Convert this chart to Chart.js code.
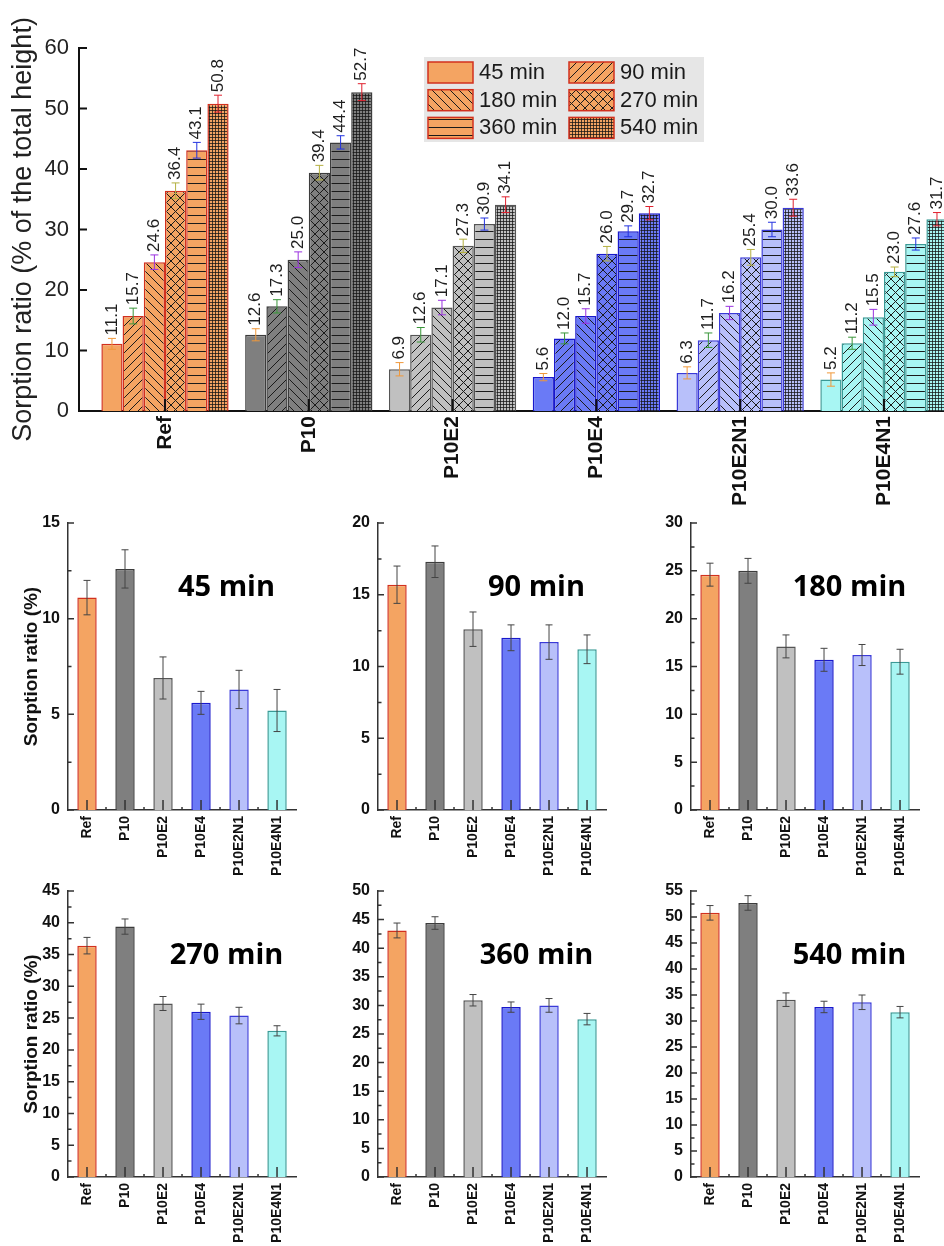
<!DOCTYPE html>
<html>
<head>
<meta charset="utf-8">
<script src="https://cdn.jsdelivr.net/npm/chart.js@4.4.1/dist/chart.umd.min.js"></script>
<style>
  html, body { margin: 0; padding: 0; background: #fff; overflow: hidden; width: 944px; height: 1246px; }
  canvas { position: absolute; }
</style>
</head>
<body>
<canvas id="main" width="1000" height="520" style="left:0px;top:0px"></canvas>
<canvas id="c45" width="300" height="385" style="left:0px;top:500px"></canvas>
<canvas id="c90" width="300" height="385" style="left:310px;top:500px"></canvas>
<canvas id="c180" width="300" height="385" style="left:623px;top:500px"></canvas>
<canvas id="c270" width="300" height="378" style="left:0px;top:868px"></canvas>
<canvas id="c360" width="300" height="378" style="left:310px;top:868px"></canvas>
<canvas id="c540" width="300" height="378" style="left:623px;top:868px"></canvas>
<script>
// data
const samples = ["Ref", "P10", "P10E2", "P10E4", "P10E2N1", "P10E4N1"];
const times = ["45 min", "90 min", "180 min", "270 min", "360 min", "540 min"];

const ratio45 = [11.1, 12.6, 6.9, 5.6, 6.3, 5.2];
const ratio90 = [15.7, 17.3, 12.6, 12.0, 11.7, 11.2];
const ratio180 = [24.6, 25.0, 17.1, 15.7, 16.2, 15.5];
const ratio270 = [36.4, 39.4, 27.3, 26.0, 25.4, 23.0];
const ratio360 = [43.1, 44.4, 30.9, 29.7, 30.0, 27.6];
const ratio540 = [50.8, 52.7, 34.1, 32.7, 33.6, 31.7];

const err45 = [0.9, 1.0, 1.1, 0.6, 1.0, 1.1];
const err90 = [1.3, 1.1, 1.2, 0.9, 1.2, 1.0];
const err180 = [1.2, 1.3, 1.2, 1.2, 1.1, 1.3];
const err270 = [1.3, 1.2, 1.1, 1.2, 1.3, 0.8];
const err360 = [1.3, 1.1, 1.0, 0.9, 1.2, 1.0];
const err540 = [1.4, 1.4, 1.3, 1.1, 1.4, 1.1];

const mainTicksY = [0, 10, 20, 30, 40, 50, 60];
const panelMax = [15, 20, 30, 45, 50, 55];

const ratios = [ratio45, ratio90, ratio180, ratio270, ratio360, ratio540];
const errs = [err45, err90, err180, err270, err360, err540];

// styles
const FONT = "'Liberation Sans', Arial, sans-serif";
const fillColors = ["#f4a462", "#7f7f7f", "#c0c0c0", "#6a7af6", "#b8c0fa", "#a8f6f3"];
const borderColors = ["#d2301e", "#3c3c3c", "#555555", "#1818cc", "#3a3ad8", "#3a9a96"];
const patternKinds = ["none", "fwd", "back", "cross", "horiz", "grid"];
const errColors = ["#f0983a", "#3a963a", "#9a32e0", "#b4b040", "#2232e0", "#e0202e"];

Chart.defaults.font.family = FONT;

const mainCtx = document.getElementById("main").getContext("2d");

function makePattern(kind, fill) {
  const sizes = { none: 4, fwd: 9, back: 9, cross: 9, horiz: 8, grid: 3 };
  const s = sizes[kind];
  const c = document.createElement("canvas");
  c.width = s; c.height = s;
  const g = c.getContext("2d");
  g.fillStyle = fill;
  g.fillRect(0, 0, s, s);
  g.strokeStyle = kind === "grid" ? "rgba(20,20,20,0.75)" : "#1a1a1a";
  g.lineWidth = 1;
  g.beginPath();
  if (kind === "fwd" || kind === "cross") {
    g.moveTo(-1, s + 1); g.lineTo(s + 1, -1);
    g.moveTo(-1, 1); g.lineTo(1, -1);
    g.moveTo(s - 1, s + 1); g.lineTo(s + 1, s - 1);
  }
  if (kind === "back" || kind === "cross") {
    g.moveTo(-1, -1); g.lineTo(s + 1, s + 1);
    g.moveTo(s - 1, -1); g.lineTo(s + 1, 1);
    g.moveTo(-1, s - 1); g.lineTo(1, s + 1);
  }
  if (kind === "horiz" || kind === "grid") {
    g.moveTo(0, s - 0.5); g.lineTo(s, s - 0.5);
  }
  if (kind === "grid") {
    g.moveTo(s - 0.5, 0); g.lineTo(s - 0.5, s);
  }
  g.stroke();
  return mainCtx.createPattern(c, "repeat");
}

const pats = patternKinds.map(k => fillColors.map(f => makePattern(k, f)));

// error bars (+ optional value labels)
const errorBars = {
  id: "errorBars",
  afterDatasetsDraw(chart, args, o) {
    const ctx = chart.ctx;
    const y = chart.scales.y;
    chart.data.datasets.forEach((ds, k) => {
      const meta = chart.getDatasetMeta(k);
      meta.data.forEach((bar, i) => {
        const v = ds.vals[i], e = ds.errs[i];
        const top = y.getPixelForValue(v + e), bot = y.getPixelForValue(v - e);
        ctx.save();
        ctx.strokeStyle = o.color || ds.errColor;
        ctx.lineWidth = 1;
        ctx.beginPath();
        ctx.moveTo(bar.x, top); ctx.lineTo(bar.x, bot);
        ctx.moveTo(bar.x - o.cap, top); ctx.lineTo(bar.x + o.cap, top);
        ctx.moveTo(bar.x - o.cap, bot); ctx.lineTo(bar.x + o.cap, bot);
        ctx.stroke();
        if (o.labels) {
          ctx.translate(bar.x, top - 3);
          ctx.rotate(-Math.PI / 2);
          ctx.fillStyle = "#1e1e1e";
          ctx.font = "17px " + FONT;
          ctx.textAlign = "left";
          ctx.textBaseline = "middle";
          ctx.fillText(v.toFixed(1), 0, 0);
        }
        ctx.restore();
      });
    });
  }
};

// inward tick marks
const innerTicks = {
  id: "innerTicks",
  afterDraw(chart, args, o) {
    const ctx = chart.ctx;
    const { x, y } = chart.scales;
    const left = chart.chartArea.left, bottom = chart.chartArea.bottom;
    ctx.save();
    ctx.strokeStyle = o.color;
    ctx.lineWidth = o.width;
    ctx.beginPath();
    y.ticks.forEach((t, i) => {
      const py = y.getPixelForValue(t.value);
      ctx.moveTo(left, py); ctx.lineTo(left + o.yLen, py);
      if (o.yMinor && i < y.ticks.length - 1) {
        const pm = y.getPixelForValue((t.value + y.ticks[i + 1].value) / 2);
        ctx.moveTo(left, pm); ctx.lineTo(left + o.yMinor, pm);
      }
    });
    const n = x.ticks.length;
    for (let i = 0; i < n; i++) {
      const px = x.getPixelForTick(i);
      ctx.moveTo(px, bottom); ctx.lineTo(px, bottom - o.xLen);
      if (o.xMinor && i < n - 1) {
        const pm = (px + x.getPixelForTick(i + 1)) / 2;
        ctx.moveTo(pm, bottom); ctx.lineTo(pm, bottom - o.xMinor);
      }
    }
    ctx.stroke();
    ctx.restore();
  }
};

// legend box for the main chart
const legendBox = {
  id: "legendBox",
  afterDraw(chart) {
    const ctx = chart.ctx;
    ctx.save();
    ctx.fillStyle = "#e6e6e6";
    ctx.fillRect(424, 57, 280, 85);
    chart.data.datasets.forEach((ds, k) => {
      const col = k % 2, row = Math.floor(k / 2);
      const bx = 428 + col * 141, by = 62 + row * 27.7;
      ctx.fillStyle = pats[k][0];
      ctx.fillRect(bx, by, 45, 21);
      ctx.strokeStyle = borderColors[0];
      ctx.lineWidth = 1.5;
      ctx.strokeRect(bx, by, 45, 21);
      ctx.fillStyle = "#1a1a1a";
      ctx.font = "22px " + FONT;
      ctx.textAlign = "left";
      ctx.textBaseline = "middle";
      ctx.fillText(ds.label, bx + 51, by + 11);
    });
    ctx.restore();
  }
};

// main grouped chart
const xPos = samples.map((s, i) => i + 1);

new Chart(mainCtx, {
  type: "bar",
  data: {
    datasets: times.map((t, k) => ({
      label: t,
      data: ratios[k].map((v, i) => ({ x: xPos[i], y: v })),
      vals: ratios[k],
      errs: errs[k],
      errColor: errColors[k],
      backgroundColor: c => pats[k][c.dataIndex],
      borderColor: c => borderColors[c.dataIndex],
      borderWidth: 1.5,
      categoryPercentage: 0.885,
      barPercentage: 1
    }))
  },
  options: {
    responsive: false,
    animation: false,
    events: [],
    layout: { padding: { top: 48, left: 0, right: 0, bottom: 0 } },
    plugins: {
      legend: { display: false },
      tooltip: { enabled: false },
      errorBars: { cap: 4, labels: true },
      innerTicks: { color: "#111", width: 2, yLen: 8, yMinor: 0, xLen: 12, xMinor: 0 }
    },
    scales: {
      x: {
        type: "linear",
        min: 0.402,
        max: 6.807,
        offset: false,
        grid: { display: false, drawTicks: false },
        border: { display: true, color: "#111", width: 2 },
        afterBuildTicks: s => { s.ticks = xPos.map(v => ({ value: v })); },
        afterFit: s => { s.height = 109; },
        ticks: {
          autoSkip: false, minRotation: 90, maxRotation: 90, padding: 5,
          color: "#111", font: { size: 21, weight: "bold" },
          callback: (v, i) => samples[i]
        }
      },
      y: {
        min: 0,
        max: 60,
        afterBuildTicks: s => { s.ticks = mainTicksY.map(v => ({ value: v })); },
        afterFit: s => { s.width = 79; },
        grid: { display: false, drawTicks: false },
        border: { display: true, color: "#111", width: 2 },
        ticks: { padding: 10, color: "#222", font: { size: 22 } },
        title: {
          display: true, text: "Sorption ratio (% of the total height)",
          color: "#222", font: { size: 27 }, padding: { top: 7, bottom: 0 }
        }
      }
    }
  },
  plugins: [errorBars, innerTicks, legendBox]
});

// panel titles
const panelTitle = {
  id: "panelTitle",
  afterDraw(chart, args, o) {
    const a = chart.chartArea, ctx = chart.ctx;
    ctx.save();
    ctx.fillStyle = "#000";
    ctx.font = "bold 29px 'Open Sans', " + FONT;
    ctx.textAlign = "center";
    ctx.textBaseline = "middle";
    ctx.fillText(o.text, a.left + 0.695 * (a.right - a.left), a.top + 0.225 * (a.bottom - a.top));
    ctx.restore();
  }
};

// small panels
const panelIds = ["c45", "c90", "c180", "c270", "c360", "c540"];

panelIds.forEach((id, k) => {
  const firstCol = k % 3 === 0;
  const xH = k < 3 ? 75 : 69;
  new Chart(document.getElementById(id), {
    type: "bar",
    data: {
      labels: samples,
      datasets: [{
        label: times[k],
        data: ratios[k],
        vals: ratios[k],
        errs: errs[k],
        backgroundColor: fillColors,
        borderColor: borderColors,
        borderWidth: 1.5,
        categoryPercentage: 1,
        barPercentage: 0.51
      }]
    },
    options: {
      responsive: false,
      animation: false,
      events: [],
      layout: { padding: { top: 23, left: 0, right: 2, bottom: 0 } },
      plugins: {
        legend: { display: false },
        tooltip: { enabled: false },
        errorBars: { cap: 3.5, labels: false, color: "#444" },
        innerTicks: { color: "#333", width: 1.5, yLen: 6, yMinor: 3.5, xLen: 10, xMinor: 3 },
        panelTitle: { text: times[k] }
      },
      scales: {
        x: {
          grid: { display: false, drawTicks: false },
          border: { display: true, color: "#333", width: 1.5 },
          afterFit: s => { s.height = xH; },
          ticks: {
            autoSkip: false, minRotation: 90, maxRotation: 90, padding: 6,
            color: "#111", font: { size: 14, weight: "bold" }
          }
        },
        y: {
          min: 0,
          max: panelMax[k],
          afterFit: s => { s.width = 68; },
          grid: { display: false, drawTicks: false },
          border: { display: true, color: "#333", width: 1.5 },
          ticks: { stepSize: 5, padding: 8, color: "#111", font: { size: 16, weight: "bold" } },
          title: {
            display: firstCol, text: "Sorption ratio (%)", color: "#111",
            font: { size: 19, weight: "bold" }, padding: { top: 20, bottom: 0 }
          }
        }
      }
    },
    plugins: [errorBars, innerTicks, panelTitle]
  });
});
</script>
</body>
</html>
